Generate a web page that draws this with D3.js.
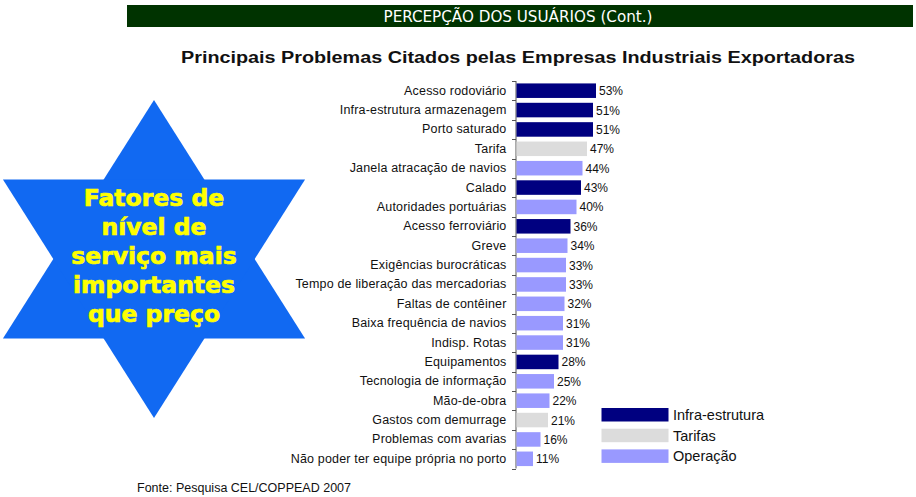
<!DOCTYPE html>
<html><head><meta charset="utf-8">
<script src="https://cdn.jsdelivr.net/npm/d3@7/dist/d3.min.js"></script>
<style>body{margin:0;background:#fff}svg{display:block}</style>
</head><body>
<script>
const categories = ["Acesso rodoviário","Infra-estrutura armazenagem","Porto saturado","Tarifa","Janela atracação de navios","Calado","Autoridades portuárias","Acesso ferroviário","Greve","Exigências burocráticas","Tempo de liberação das mercadorias","Faltas de contêiner","Baixa frequência de navios","Indisp. Rotas","Equipamentos","Tecnologia de informação","Mão-de-obra","Gastos com demurrage","Problemas com avarias","Não poder ter equipe própria no porto"];
const values = [53,51,51,47,44,43,40,36,34,33,33,32,31,31,28,25,22,21,16,11];
const groups = ["Infra-estrutura","Infra-estrutura","Infra-estrutura","Tarifas","Operação","Infra-estrutura","Operação","Infra-estrutura","Operação","Operação","Operação","Operação","Operação","Operação","Infra-estrutura","Operação","Operação","Tarifas","Operação","Operação"];
const legendNames = ["Infra-estrutura","Tarifas","Operação"];
const legendColors = ["#000080","#DCDCDC","#9999FF"];
const starLines = ["Fatores de","nível de","serviço mais","importantes","que preço"];

const W=916,H=497;
const svg=d3.select("body").append("svg").attr("width",W).attr("height",H);

// header bar
svg.append("rect").attr("x",127).attr("y",5).attr("width",786).attr("height",22).attr("fill","#003300");
svg.append("text").attr("x",518).attr("y",21.5).attr("text-anchor","middle")
  .attr("font-family","'Liberation Sans Narrow','DejaVu Sans Condensed',sans-serif").attr("font-size",15)
  .attr("fill","#fff").attr("textLength",269).attr("lengthAdjust","spacingAndGlyphs")
  .text("PERCEPÇÃO DOS USUÁRIOS (Cont.)");

// title
svg.append("text").attr("x",518).attr("y",63).attr("text-anchor","middle")
  .attr("font-family","'Liberation Sans',Arial,sans-serif").attr("font-weight","bold").attr("font-size",16)
  .attr("fill","#111").attr("textLength",674).attr("lengthAdjust","spacingAndGlyphs")
  .text("Principais Problemas Citados pelas Empresas Industriais Exportadoras");

// star
const cx=154, cy=259, R=159, sx=1.097;
const pt=a=>[cx+R*Math.cos(a)*sx, cy-R*Math.sin(a)];
const deg=Math.PI/180;
const triUp=[pt(90*deg),pt(210*deg),pt(330*deg)];
const triDown=[pt(270*deg),pt(30*deg),pt(150*deg)];
[triUp,triDown].forEach(t=>svg.append("polygon").attr("points",t.map(p=>p.join(",")).join(" ")).attr("fill","#1169F2"));
svg.append("g").selectAll("text").data(starLines).join("text")
  .attr("x",cx).attr("y",(d,i)=>206+i*29).attr("text-anchor","middle")
  .attr("font-family","'DejaVu Sans',sans-serif").attr("font-weight","bold").attr("font-size",23.5)
  .attr("fill","#FFFF00").attr("stroke","#FFFF00").attr("stroke-width",0.7).text(d=>d);

// chart
const x0=516.5;
const x=d3.scaleLinear().domain([0,100]).range([x0,x0+150]);
const y=d3.scaleBand().domain(categories).range([81,468.5]).paddingInner(0.25).paddingOuter(0.125);
const color=d3.scaleOrdinal().domain(legendNames).range(legendColors);

const axis=d3.axisLeft(y).tickSize(0).tickPadding(10);
const ag=svg.append("g").attr("transform",`translate(${x0},0)`).call(axis);
ag.select(".domain").remove();
ag.selectAll("text").attr("font-family","'Liberation Sans',Arial,sans-serif").attr("font-size",12.5)
  .attr("letter-spacing",0.18).attr("fill","#111");
// axis line and ticks at band boundaries
const bounds=categories.map(c=>y(c)-y.step()*y.paddingInner()/2).concat([y(categories[categories.length-1])+y.bandwidth()+y.step()*y.paddingInner()/2]);
svg.append("line").attr("x1",x0-0.5).attr("x2",x0-0.5).attr("y1",bounds[0]).attr("y2",bounds[bounds.length-1]).attr("stroke","#555").attr("stroke-width",1);
svg.append("g").selectAll("line").data(bounds).join("line")
  .attr("x1",x0-4.5).attr("x2",x0-0.5).attr("y1",d=>Math.round(d)+0.5).attr("y2",d=>Math.round(d)+0.5).attr("stroke","#555");

svg.append("g").selectAll("rect").data(categories).join("rect")
  .attr("x",x(0)).attr("y",d=>y(d)).attr("width",(d,i)=>x(values[i])-x(0)).attr("height",y.bandwidth())
  .attr("fill",(d,i)=>color(groups[i]));
svg.append("g").selectAll("text").data(categories).join("text")
  .attr("x",(d,i)=>x(values[i])+3).attr("y",d=>y(d)+y.bandwidth()/2+4.5)
  .attr("font-family","'Liberation Sans',Arial,sans-serif").attr("font-size",12).attr("fill","#111")
  .text((d,i)=>values[i]+"%");

// legend
const lg=svg.append("g");
legendNames.forEach((n,i)=>{
  const yy=408+i*20.7;
  lg.append("rect").attr("x",601.5).attr("y",yy).attr("width",67).attr("height",13.5).attr("fill",legendColors[i]);
  lg.append("text").attr("x",673).attr("y",yy+12).attr("font-family","'Liberation Sans',Arial,sans-serif")
    .attr("font-size",14.5).attr("fill","#111").text(n);
});

// footer
svg.append("text").attr("x",137).attr("y",492).attr("font-family","'Liberation Sans',Arial,sans-serif")
  .attr("font-size",12.5).attr("fill","#111").text("Fonte: Pesquisa CEL/COPPEAD 2007");
</script>
</body></html>
